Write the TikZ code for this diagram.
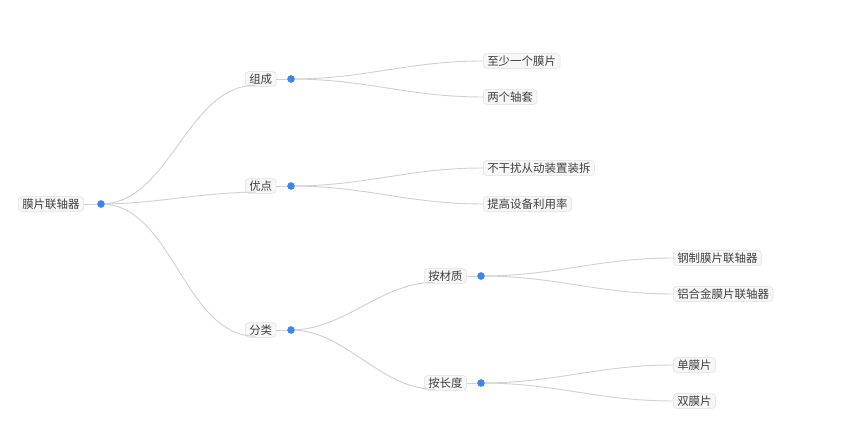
\documentclass[tikz,border=0pt]{standalone}
\usepackage{fontspec}
\setmainfont{Noto Sans CJK SC}
\begin{document}
\begin{tikzpicture}[x=0.75pt,y=-0.75pt,
  box/.style={draw=black!12,fill=black!3,rounded corners=2.5pt,inner xsep=3pt,inner ysep=1.5pt,font=\fontsize{8.6pt}{10pt}\selectfont,text=black!75,anchor=west},
  dotc/.style={circle,fill=dotblue,inner sep=0pt,minimum size=5.5pt},
  edge/.style={draw=black!18,line width=0.7pt}]
\definecolor{dotblue}{HTML}{3A86F0}
\useasboundingbox (0,0) rectangle (841,441);
\node[box] (r) at (18,204) {膜片联轴器};
\node[dotc] (rd) at (101,204) {};
\node[box] (a) at (245,79) {组成};
\node[dotc] (ad) at (291,79) {};
\node[box] (b) at (245,186) {优点};
\node[dotc] (bd) at (291,186) {};
\node[box] (c) at (245,330) {分类};
\node[dotc] (cd) at (291,330) {};
\node[box] (a1) at (483,61) {至少一个膜片};
\node[box] (a2) at (483,97) {两个轴套};
\node[box] (b1) at (483,168) {不干扰从动装置装拆};
\node[box] (b2) at (483,204) {提高设备利用率};
\node[box] (c1) at (424,276) {按材质};
\node[dotc] (c1d) at (481,276) {};
\node[box] (c2) at (424,383) {按长度};
\node[dotc] (c2d) at (481,383) {};
\node[box] (d1) at (673,258) {钢制膜片联轴器};
\node[box] (d2) at (673,294) {铝合金膜片联轴器};
\node[box] (e1) at (673,365) {单膜片};
\node[box] (e2) at (673,401) {双膜片};
\foreach \n in {r,a,b,c,c1,c2} {\draw[edge] (\n.east) -- (\n d);}
\foreach \p/\q in {rd/a,rd/b,rd/c,cd/c1,cd/c2} {
  \draw[edge] (\p.center) to[out=0,in=180,looseness=0.9] ([xshift=8pt,yshift=1pt]\q.south west);}
\foreach \p/\q in {ad/a1,ad/a2,bd/b1,bd/b2,c1d/d1,c1d/d2,c2d/e1,c2d/e2} {
  \draw[edge] (\p.center) to[out=0,in=180] (\q.west);}
\foreach \n in {rd,ad,bd,cd,c1d,c2d} \node[dotc] at (\n) {};
\end{tikzpicture}
\end{document}
